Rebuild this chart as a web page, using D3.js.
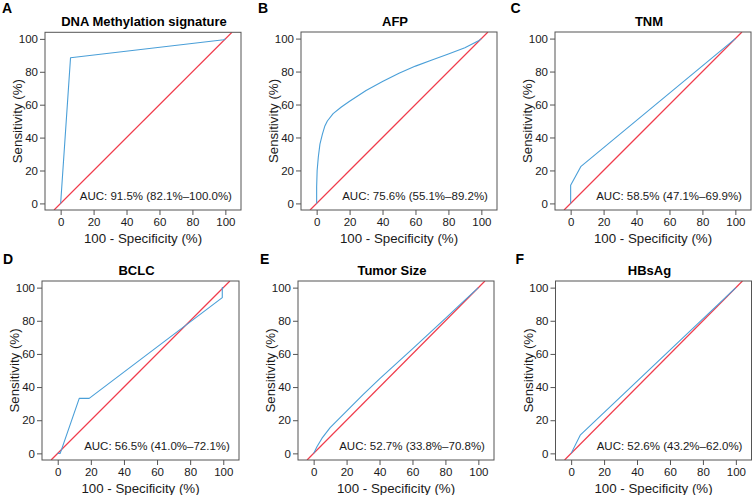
<!DOCTYPE html>
<html>
<head>
<meta charset="utf-8">
<script src="https://cdn.jsdelivr.net/npm/d3@7/dist/d3.min.js"></script>
<style>
  html, body { margin: 0; padding: 0; background: #fff; }
  svg { display: block; }
  text { font-family: "Liberation Sans", Arial, Helvetica, sans-serif; }
</style>
</head>
<body>
<svg id="chart" width="756" height="495"></svg>
<script>
// ---------- data ----------
const panelLetters = ["A", "B", "C", "D", "E", "F"];
const panelTitles = ["DNA Methylation signature", "AFP", "TNM", "BCLC", "Tumor Size", "HBsAg"];
const aucLabels = [
  "AUC: 91.5% (82.1%\u2013100.0%)",
  "AUC: 75.6% (55.1%\u201389.2%)",
  "AUC: 58.5% (47.1%\u201369.9%)",
  "AUC: 56.5% (41.0%\u201372.1%)",
  "AUC: 52.7% (33.8%\u201370.8%)",
  "AUC: 52.6% (43.2%\u201362.0%)"
];
const tickValues = [0, 20, 40, 60, 80, 100];
const xAxisTitle = "100 - Specificity (%)";
const yAxisTitle = "Sensitivity (%)";

// ROC curves: [100 - specificity, sensitivity]
const rocDNA = [[0, 0], [6, 88.5], [99, 99.5], [100, 100]];
const rocAFP = [[0, 0], [0, 10], [0.3, 20], [1, 28], [2, 36], [3.5, 42], [5, 47], [6.5, 50],
  [10, 54.5], [15, 58.5], [20, 62], [30, 68.5], [40, 74], [50, 79], [60, 83.3], [70, 87],
  [80, 90.7], [90, 94.5], [98, 98.5], [100, 100]];
const rocTNM = [[0, 0], [0, 11], [6.3, 22.5], [100, 100]];
const rocBCLC = [[0, 0], [1.5, 0], [13, 33.2], [19, 33.2], [99.4, 94], [99.4, 100], [100, 100]];
const rocSize = [[0, 0], [2, 4], [5, 9], [10, 15.5], [20, 25.5], [30, 35.5], [40, 45], [50, 54],
  [60, 63], [70, 72.2], [80, 81.5], [90, 90.8], [100, 100]];
const rocHBsAg = [[0, 0], [5.5, 11], [100, 100]];
const rocCurves = [rocDNA, rocAFP, rocTNM, rocBCLC, rocSize, rocHBsAg];

// ---------- layout ----------
const boxes = [
  { l: 45,  t: 32.3, w: 196, h: 177.7, tdx: 1 },
  { l: 301, t: 32,   w: 196, h: 178,   tdx: -4 },
  { l: 555, t: 32,   w: 196, h: 178,   tdx: -4 },
  { l: 42,  t: 281,  w: 197, h: 179,   tdx: -4 },
  { l: 298, t: 281,  w: 196, h: 179,   tdx: -4 },
  { l: 555.5, t: 281, w: 196, h: 179,  tdx: -4 }
];
const letterPos = [[2, 13], [258, 13], [510.5, 13], [3, 263.5], [260, 263.5], [515.5, 263.5]];

const blue = "#4a9fd8";
const red = "#f03c4c";
const boxColor = "#555";
const textColor = "#1a1a1a";

const svg = d3.select("#chart");
const defs = svg.append("defs");

boxes.forEach((b, i) => {
  const x = d3.scaleLinear().domain([-9.5, 109.5]).range([b.l, b.l + b.w]);
  const y = d3.scaleLinear().domain([-4, 104]).range([b.t + b.h, b.t]);
  const g = svg.append("g");

  const clipId = "clip" + i;
  defs.append("clipPath").attr("id", clipId)
    .append("rect").attr("x", b.l).attr("y", b.t).attr("width", b.w).attr("height", b.h);

  const plot = g.append("g").attr("clip-path", `url(#${clipId})`);

  // diagonal reference
  plot.append("path")
    .attr("d", `M${x(-4)},${y(-4)}L${x(104)},${y(104)}`)
    .attr("fill", "none")
    .attr("stroke", red).attr("stroke-width", 1.25);

  // ROC curve
  const line = d3.line().x(d => x(d[0])).y(d => y(d[1]));
  plot.append("path")
    .datum(rocCurves[i])
    .attr("d", line)
    .attr("fill", "none")
    .attr("stroke", blue)
    .attr("stroke-width", 1.1)
    .attr("stroke-linejoin", "round");

  // box
  g.append("rect")
    .attr("x", b.l).attr("y", b.t).attr("width", b.w).attr("height", b.h)
    .attr("fill", "none").attr("stroke", boxColor).attr("stroke-width", 1);

  // x axis
  const xAxis = d3.axisBottom(x).tickValues(tickValues).tickSize(5).tickPadding(3);
  const xg = g.append("g").attr("transform", `translate(0,${b.t + b.h})`).call(xAxis);
  xg.select(".domain").remove();
  xg.selectAll("line").attr("stroke", boxColor);
  xg.selectAll("text").attr("font-size", "11.5px").attr("fill", textColor)
    .attr("font-family", "Liberation Sans, Arial, sans-serif");

  // y axis
  const yAxis = d3.axisLeft(y).tickValues(tickValues).tickSize(5).tickPadding(2);
  const yg = g.append("g").attr("transform", `translate(${b.l},0)`).call(yAxis);
  yg.select(".domain").remove();
  yg.selectAll("line").attr("stroke", boxColor);
  yg.selectAll("text").attr("font-size", "11.5px").attr("fill", textColor)
    .attr("font-family", "Liberation Sans, Arial, sans-serif");

  // AUC label
  g.append("text")
    .attr("x", x(104)).attr("y", y(1.8))
    .attr("text-anchor", "end")
    .attr("font-size", "11.5px").attr("fill", textColor)
    .text(aucLabels[i]);

  // title
  g.append("text")
    .attr("x", b.l + b.w / 2 + b.tdx).attr("y", b.t - 6)
    .attr("text-anchor", "middle")
    .attr("font-size", "13px").attr("font-weight", "bold").attr("fill", "#000")
    .text(panelTitles[i]);

  // axis titles
  g.append("text")
    .attr("x", x(50)).attr("y", b.t + b.h + 33)
    .attr("text-anchor", "middle")
    .attr("font-size", "13.3px").attr("fill", textColor)
    .text(xAxisTitle);

  g.append("text")
    .attr("transform", `translate(${b.l - 23},${b.t + b.h / 2}) rotate(-90)`)
    .attr("text-anchor", "middle")
    .attr("font-size", "13.3px").attr("fill", textColor)
    .text(yAxisTitle);

  // panel letter
  g.append("text")
    .attr("x", letterPos[i][0]).attr("y", letterPos[i][1])
    .attr("font-size", "14px").attr("font-weight", "bold").attr("fill", "#000")
    .text(panelLetters[i]);
});
</script>
</body>
</html>
